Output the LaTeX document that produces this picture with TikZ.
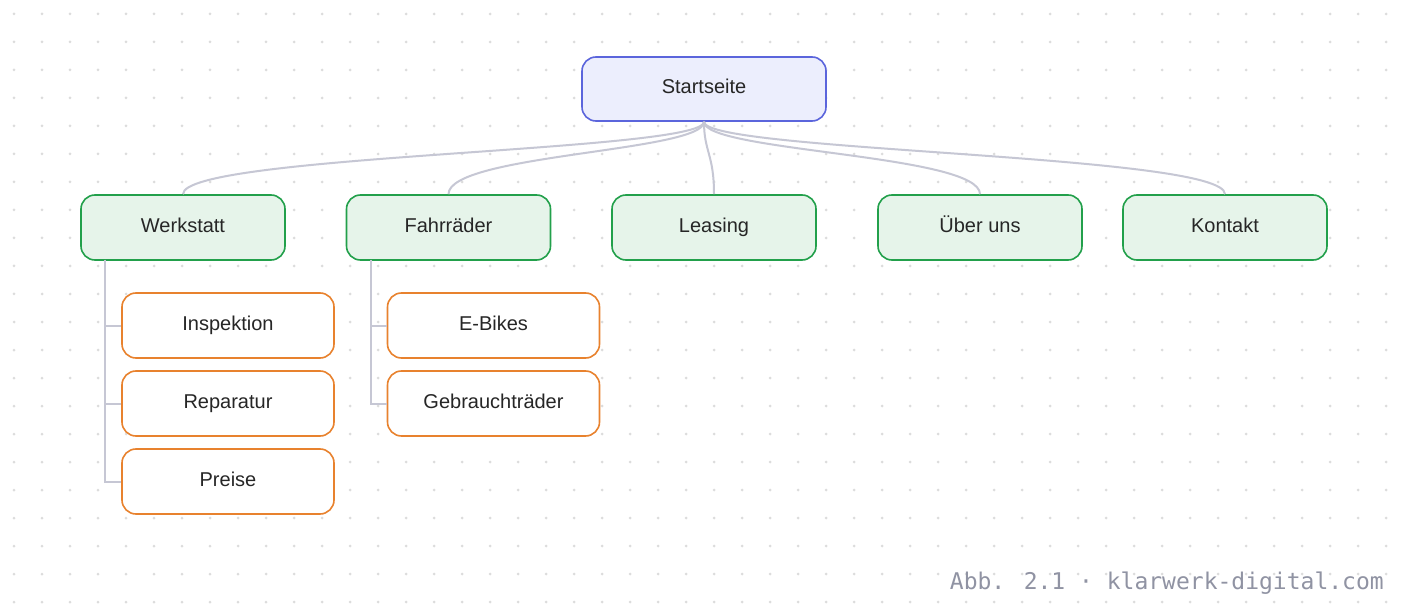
\documentclass[tikz,border=0pt]{standalone}
\usepackage{fontspec}
\usetikzlibrary{calc}
\setmainfont{Liberation Sans}
\newfontfamily\footmono{DejaVu Sans Mono}
\definecolor{rootfill}{HTML}{ECEEFD}
\definecolor{rootdraw}{HTML}{5B65DC}
\definecolor{secfill}{HTML}{E6F4EA}
\definecolor{secdraw}{HTML}{22A04B}
\definecolor{leafdraw}{HTML}{E8822E}
\definecolor{linec}{HTML}{C6C7D4}
\definecolor{dotc}{HTML}{DCDCDC}
\definecolor{footc}{HTML}{9093A3}
\begin{document}
\begin{tikzpicture}[x=1pt,y=-1pt,
  box/.style={rounded corners=14pt,line width=1.6pt,align=center,font=\fontsize{20}{24}\selectfont,text=black!85,text height=14pt,text depth=4pt},
  root/.style={box,fill=rootfill,draw=rootdraw,minimum width=244pt,minimum height=64pt},
  sec/.style={box,fill=secfill,draw=secdraw,minimum width=204pt,minimum height=65pt},
  leaf/.style={box,fill=white,draw=leafdraw,minimum width=212pt,minimum height=65pt},
  conn/.style={draw=linec,line width=2pt}]
\useasboundingbox (0,0) rectangle (1408,612);
\fill[white] (0,0) rectangle (1408,612);
\foreach \i in {0,...,49}{\foreach \j in {0,...,21}{\fill[dotc] (14+28*\i,14+28*\j) circle (1.5pt);}}
\node[root] (r) at (704,89) {Startseite};
\node[sec] (w) at (183,227.5) {Werkstatt};
\node[sec] (f) at (448.5,227.5) {Fahrräder};
\node[sec] (l) at (714,227.5) {Leasing};
\node[sec] (u) at (980,227.5) {Über uns};
\node[sec] (k) at (1225,227.5) {Kontakt};
\foreach \n in {w,f,l,u,k}{
  \draw[conn] (r.south) .. controls ($(r.south)+(0,30)$) and ($(\n.north)+(0,-40)$) .. (\n.north);}
\node[leaf] (i) at (228,325.5) {Inspektion};
\node[leaf] (rp) at (228,403.5) {Reparatur};
\node[leaf] (p) at (228,481.5) {Preise};
\node[leaf] (e) at (493.5,325.5) {E-Bikes};
\node[leaf] (g) at (493.5,403.5) {Gebrauchträder};
\coordinate (wb) at (105,260);
\coordinate (fb) at (371,260);
\draw[conn] (wb) |- (p.west);
\draw[conn] (wb) |- (i.west);
\draw[conn] (wb) |- (rp.west);
\draw[conn] (fb) |- (g.west);
\draw[conn] (fb) |- (e.west);
\node[anchor=base east,text=footc,font=\footmono\fontsize{23}{26}\selectfont,inner sep=0pt] (ft) at (1384,589) {Abb. 2.1 · klarwerk-digital.com};
\end{tikzpicture}
\end{document}
